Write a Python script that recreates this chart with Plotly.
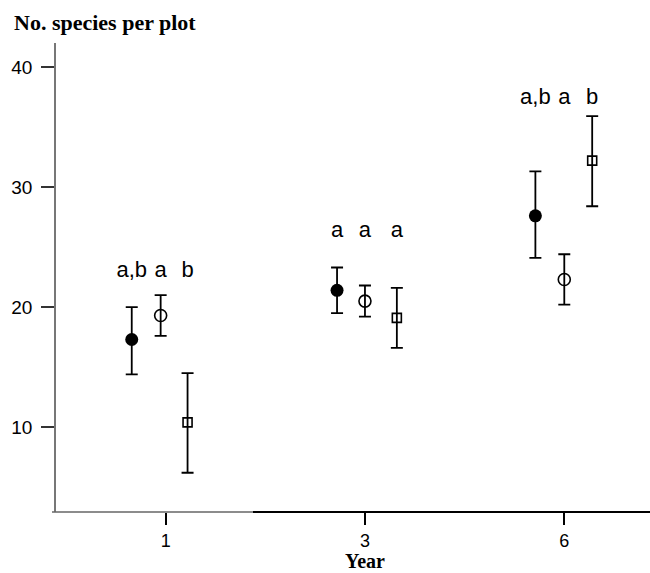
import plotly.graph_objects as go

# ---- data ----
years = ["1", "3", "6"]
series_names = ["filled", "open", "square"]
means = {
    "filled": [17.3, 21.4, 27.6],
    "open": [19.3, 20.5, 22.3],
    "square": [10.4, 19.1, 32.2],
}
upper = {
    "filled": [20.0, 23.3, 31.3],
    "open": [21.0, 21.8, 24.4],
    "square": [14.5, 21.6, 35.9],
}
lower = {
    "filled": [14.4, 19.5, 24.1],
    "open": [17.6, 19.2, 20.2],
    "square": [6.2, 16.6, 28.4],
}
letters = {
    "filled": ["a,b", "a", "a,b"],
    "open": ["a", "a", "a"],
    "square": ["b", "a", "b"],
}
letter_level = [23.0, 26.3, 37.4]

# ---- styling / placement ----
dodge = {
    "filled": [-0.17, -0.14, -0.145],
    "open": [-0.025, 0.0, 0.0],
    "square": [0.11, 0.16, 0.14],
}
styles = {
    "filled": dict(symbol="circle", size=13, color="black", line=dict(width=0)),
    "open": dict(symbol="circle-open", size=12, color="black", line=dict(width=1.6, color="black")),
    "square": dict(symbol="square-open", size=9, color="black", line=dict(width=1.6, color="black")),
}

L, T, B = 56, 43, 61
W, H = 650, 573
PW, PH = W - L, H - T - B

fig = go.Figure()
for s in series_names:
    xs = [i + d for i, d in enumerate(dodge[s])]
    fig.add_trace(go.Scatter(
        x=xs, y=means[s], mode="markers",
        marker=styles[s],
        error_y=dict(
            type="data", symmetric=False,
            array=[u - m for u, m in zip(upper[s], means[s])],
            arrayminus=[m - l for m, l in zip(means[s], lower[s])],
            color="black", thickness=1.8, width=6,
        ),
        showlegend=False, hoverinfo="skip",
    ))
    fig.add_trace(go.Scatter(
        x=xs, y=letter_level, mode="text", text=letters[s],
        textposition="middle center",
        textfont=dict(family="Liberation Sans, Arial", size=22, color="black"),
        showlegend=False, hoverinfo="skip",
    ))

fig.update_layout(
    width=W, height=H,
    margin=dict(l=L, r=0, t=T, b=B, pad=0),
    plot_bgcolor="white", paper_bgcolor="white",
    xaxis=dict(
        range=[-0.55, 2.43], tickmode="array", tickvals=[0, 1, 2], ticktext=years,
        showgrid=False, zeroline=False, showline=False,
        ticks="outside", ticklen=12, tickwidth=1.5, tickcolor="black",
        ticklabelstandoff=0,
        tickfont=dict(family="Liberation Sans, Arial", size=18, color="black"),
    ),
    yaxis=dict(
        range=[2.93, 42.0], tickvals=[10, 20, 30, 40],
        showgrid=False, zeroline=False, showline=True, linecolor="#777777", linewidth=1.5,
        ticks="outside", ticklen=13, tickwidth=1.5, tickcolor="#333333",
        ticklabelstandoff=5,
        tickfont=dict(family="Liberation Sans, Arial", size=19, color="black"),
    ),
    shapes=[
        dict(type="line", xref="paper", yref="paper", x0=-4 / PW, x1=197 / PW, y0=0, y1=0,
             line=dict(color="#666666", width=1.5)),
        dict(type="line", xref="paper", yref="paper", x0=197 / PW, x1=1.0, y0=0, y1=0,
             line=dict(color="black", width=2)),
    ],
    annotations=[
        dict(text="<b>No. species per plot</b>", xref="paper", yref="paper",
             x=(12 - L) / PW, y=1 + (T - 22) / PH, xanchor="left", yanchor="middle",
             showarrow=False,
             font=dict(family="Liberation Serif, Times New Roman", size=22, color="black")),
        dict(text="<b>Year</b>", xref="x", yref="paper",
             x=1.0, y=-(561 - T - PH) / PH, xanchor="center", yanchor="middle",
             showarrow=False,
             font=dict(family="Liberation Serif, Times New Roman", size=20, color="black")),
    ],
)

fig.write_html("out.html", config={"displayModeBar": False},
               post_script="document.body.style.margin='0';")
